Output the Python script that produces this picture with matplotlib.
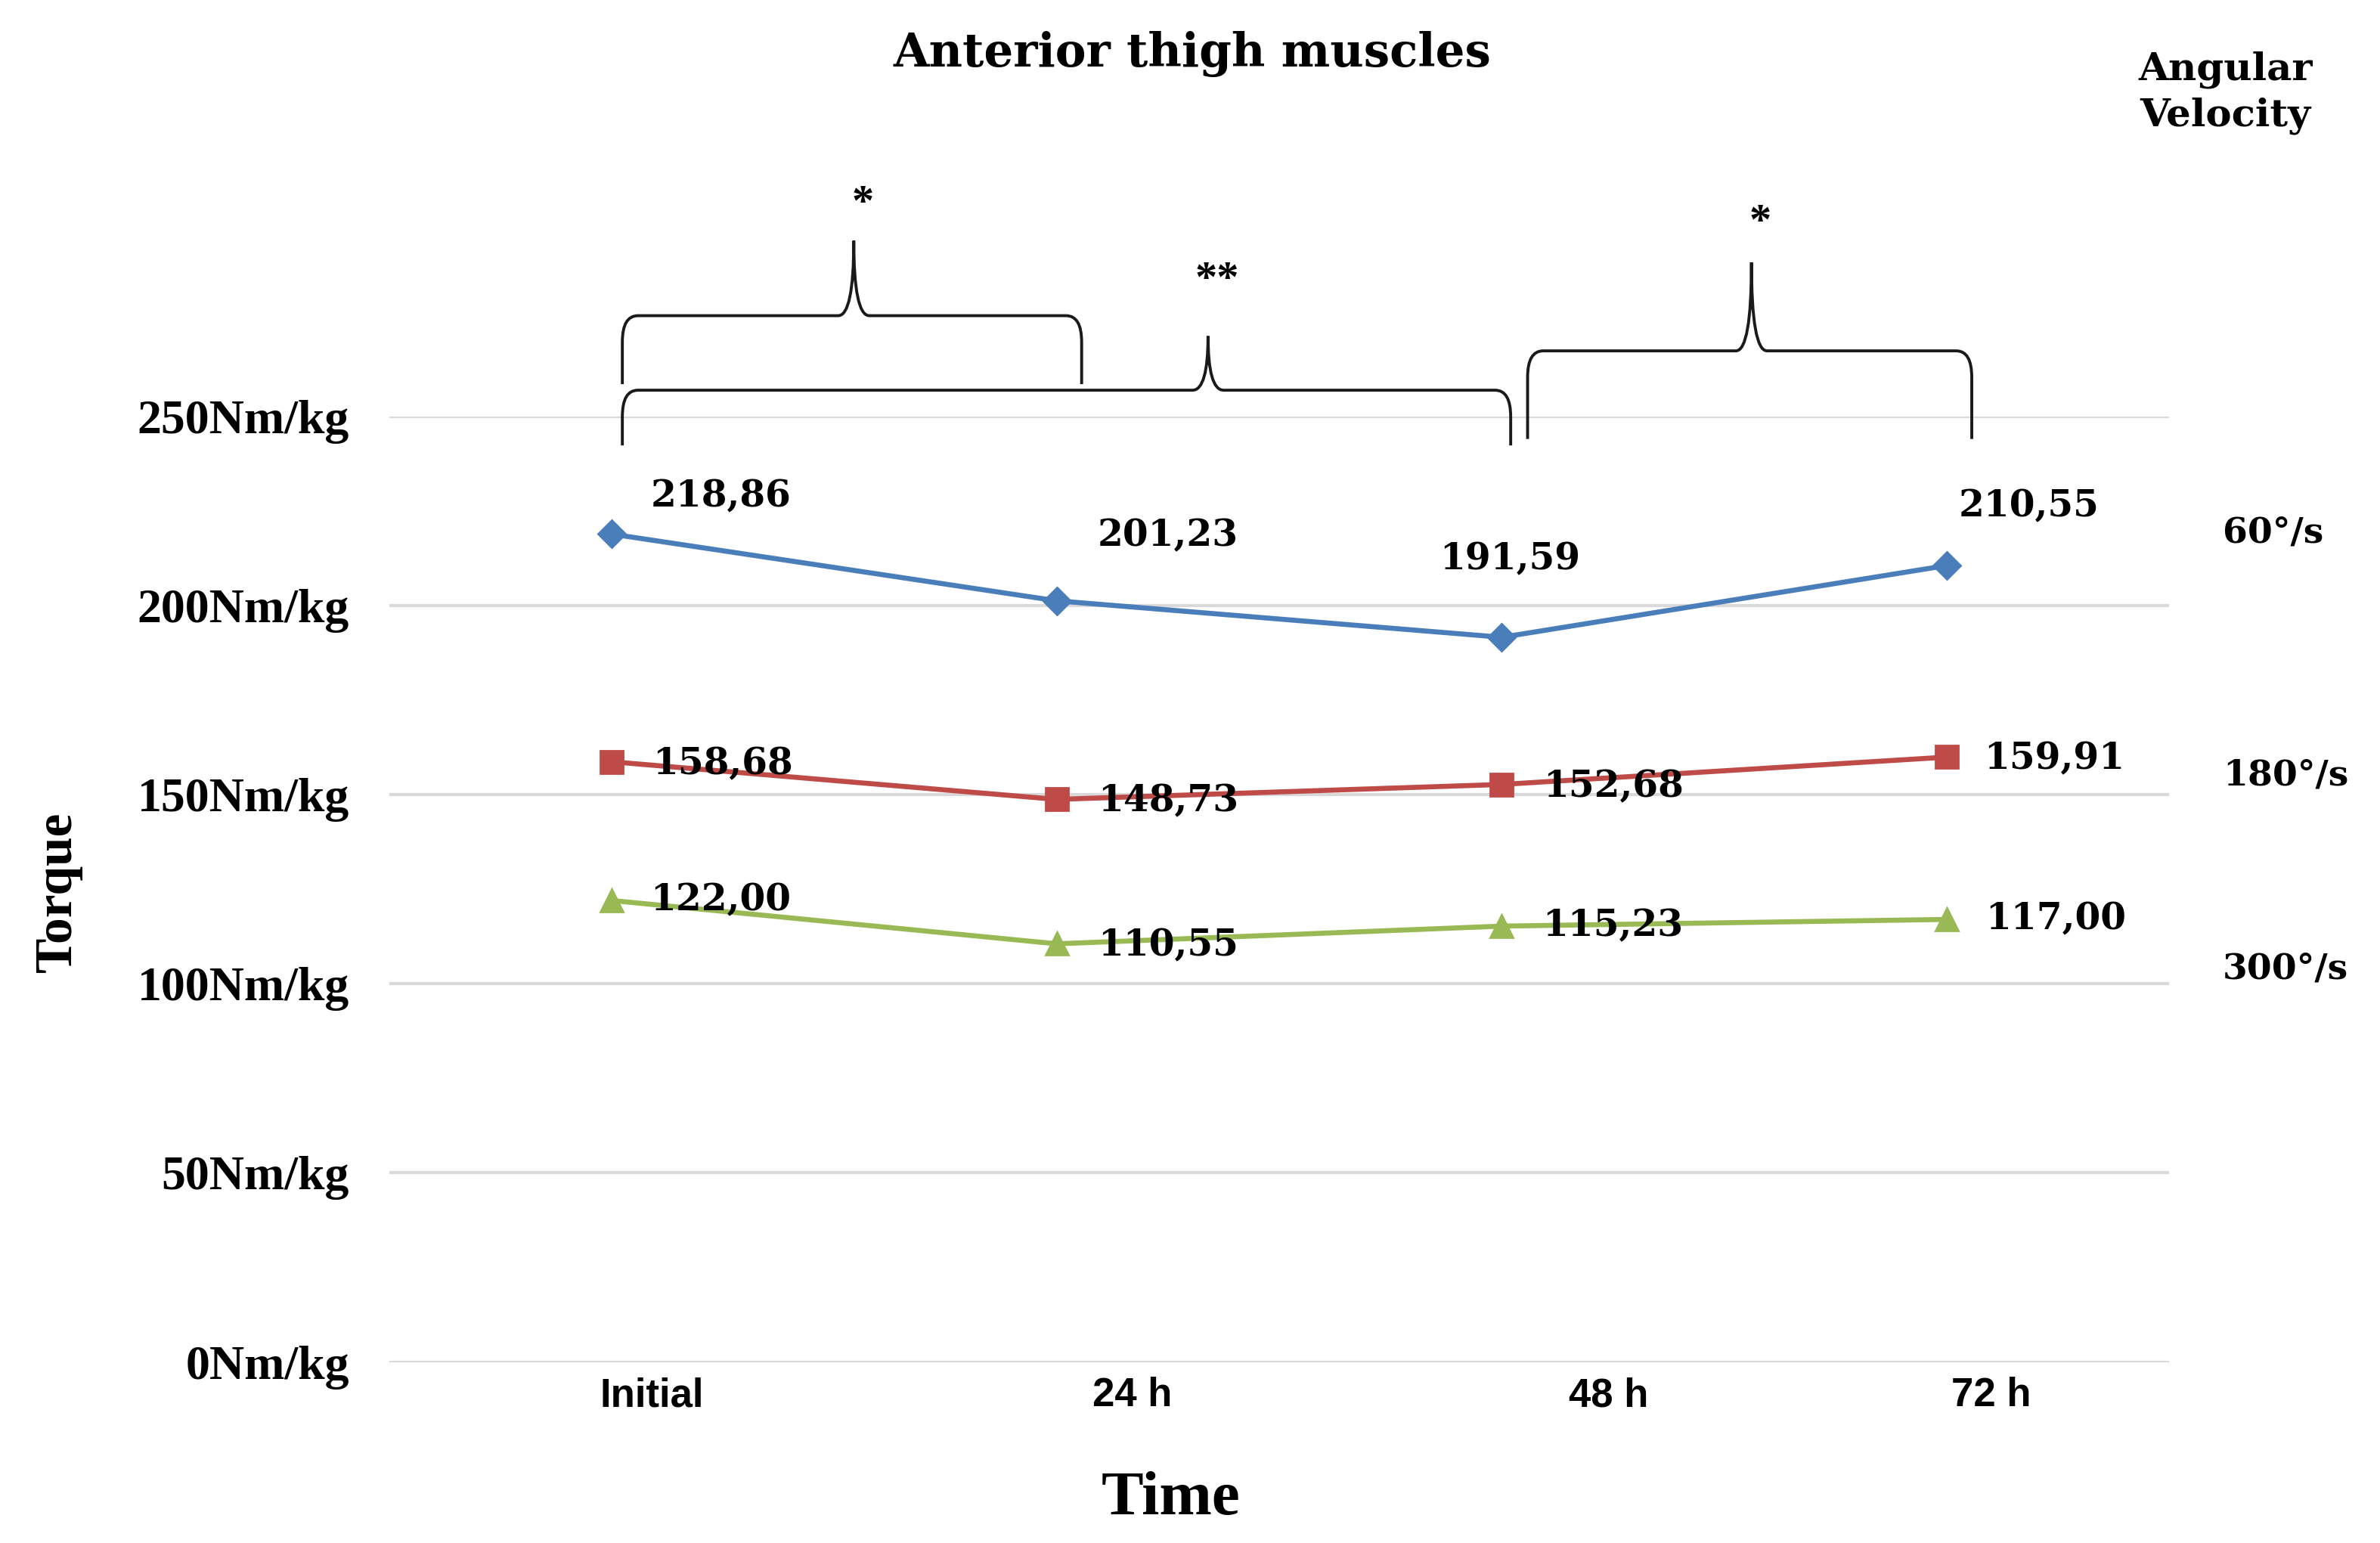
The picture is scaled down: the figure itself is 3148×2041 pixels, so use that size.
import numpy as np
import matplotlib

matplotlib.use("Agg")
import matplotlib.pyplot as plt  # noqa: E402
from matplotlib.path import Path  # noqa: E402
from matplotlib.patches import PathPatch  # noqa: E402

# ---- data -----------------------------------------------------------------
times = ["Initial", "24 h", "48 h", "72 h"]
velocities = ["60°/s", "180°/s", "300°/s"]
torque_60 = [218.86, 201.23, 191.59, 210.55]
torque_180 = [158.68, 148.73, 152.68, 159.91]
torque_300 = [122.00, 110.55, 115.23, 117.00]
yticks = [0, 50, 100, 150, 200, 250]
# significance brackets: (first time index, last time index, marker)
comparisons = [(0, 1, "*"), (0, 2, "**"), (2, 3, "*")]

# ---- style ----------------------------------------------------------------
SERIF = "Liberation Serif"
WIDE = "DejaVu Serif"
series_style = [
    dict(color="#4a7ebb", marker="D", ms=9),
    dict(color="#be4b48", marker="s", ms=11),
    dict(color="#98b954", marker="^", ms=11),
]
# label offsets (points) relative to each data point
label_offsets = [
    [(52, 18), (53, 31), (4, 37), (39, 28)],
    [(53, -1), (53, -1), (53, -1), (51, -1)],
    [(52, 0), (53, -1), (53, 0), (52, 0)],
]
tick_shift = [0.09, 0.17, 0.24, 0.10]
# bracket geometry in data units: (y ends, y bar, y tip, x of tip, y of text)
bracket_geom = [
    (258.5, 276.6, 296.4, 0.544, 306.0),
    (242.3, 256.9, 271.2, 1.340, 286.0),
    (244.0, 267.3, 290.7, 2.561, 301.0),
]
bracket_x = [(0.024, 1.056), (0.024, 2.020), (2.058, 3.056)]
right_y = [219.3, 155.2, 104.0]

fig = plt.figure(figsize=(15.74, 10.205), dpi=200)
ax = fig.add_axes([0.1635, 0.1173, 0.748, 0.6129])

x = np.arange(len(times))
for values, style, offsets in zip(
    [torque_60, torque_180, torque_300], series_style, label_offsets
):
    ax.plot(
        x,
        values,
        color=style["color"],
        lw=2.4,
        marker=style["marker"],
        markersize=style["ms"],
        markeredgecolor=style["color"],
        zorder=3,
    )
    for xi, v, off in zip(x, values, offsets):
        ax.annotate(
            f"{v:.2f}".replace(".", ","),
            (xi, v),
            xytext=off,
            textcoords="offset points",
            ha="center",
            va="center",
            fontsize=17.5,
            fontweight="heavy",
            family=WIDE,
            zorder=4,
        )

# series names at the right
for name, ry in zip(velocities, right_y):
    ax.text(3.62, ry, name, ha="left", va="center", fontsize=17,
            fontweight="bold", family=WIDE, clip_on=False)

# curly significance brackets above the plot
for (i, j, mark), (yb, yh, yp, xm, yt), (x0, x1) in zip(
    comparisons, bracket_geom, bracket_x
):
    rx, ry = 0.035, 7.0
    verts = [
        (x0, yb), (x0, yh - ry),
        (x0, yh), (x0 + rx, yh),
        (xm - rx, yh),
        (xm, yh), (xm, yp),
        (xm, yh), (xm + rx, yh),
        (x1 - rx, yh),
        (x1, yh), (x1, yh - ry),
        (x1, yb),
    ]
    codes = [
        Path.MOVETO, Path.LINETO,
        Path.CURVE3, Path.CURVE3,
        Path.LINETO,
        Path.CURVE3, Path.CURVE3,
        Path.CURVE3, Path.CURVE3,
        Path.LINETO,
        Path.CURVE3, Path.CURVE3,
        Path.LINETO,
    ]
    ax.add_patch(PathPatch(Path(verts, codes), fill=False, lw=1.4,
                           edgecolor="#1a1a1a", clip_on=False))
    ax.text(xm + 0.02, yt, mark, ha="center", va="center", fontsize=21,
            fontweight="bold", family=SERIF, clip_on=False)

ax.set_xlim(-0.5, 3.5)
ax.set_ylim(0, 250)
ax.set_yticks(yticks)
ax.set_yticklabels([f"{t}Nm/kg" for t in yticks], family=SERIF,
                   fontweight="bold", fontsize=23)
ax.set_xticks(x + np.array(tick_shift))
ax.set_xticklabels(times, family="Liberation Sans", fontweight="bold",
                   fontsize=19)
ax.tick_params(axis="y", length=0, pad=19)
ax.tick_params(axis="x", length=0, pad=7)
ax.grid(axis="y", color="#d9d9d9", lw=1.5)
ax.set_axisbelow(True)
for spine in ax.spines.values():
    spine.set_visible(False)

fig.text(0.501, 0.965, "Anterior thigh muscles", ha="center", va="center",
         fontsize=22, fontweight="bold", family=WIDE)
fig.text(0.935, 0.940, "Angular\nVelocity", ha="center", va="center",
         fontsize=18.5, fontweight="bold", family=WIDE, linespacing=1.3)
fig.text(0.492, 0.0284, "Time", ha="center", va="center", fontsize=30,
         fontweight="bold", family=SERIF)
fig.text(0.0244, 0.422, "Torque", ha="center", va="center", fontsize=25,
         fontweight="bold", family=SERIF, rotation=90)

fig.savefig("out.png", dpi=200)
